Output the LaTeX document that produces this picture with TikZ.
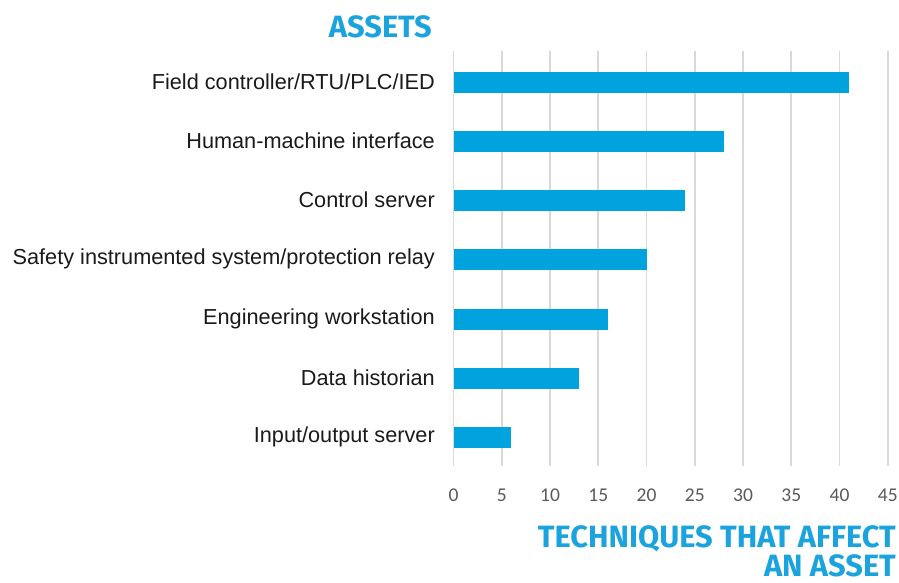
\documentclass[tikz,border=0pt]{standalone}
\usepackage{fontspec}
\setmainfont{Liberation Sans}
\newfontfamily\titlefont{Fira Sans}[UprightFont=* Bold]
\newfontfamily\tickfont{Carlito}
\definecolor{barblue}{HTML}{00A3DD}
\definecolor{titleblue}{HTML}{1AA3DC}
\definecolor{gridgray}{HTML}{D9D9D9}
\definecolor{ticktxt}{HTML}{595959}
\definecolor{labtxt}{HTML}{1A1A1A}
\begin{document}
\begin{tikzpicture}[x=1pt,y=-1pt,
  bar/.style={fill=barblue,draw=none},
  grid/.style={draw=gridgray,line width=1.6pt},
  cat/.style={anchor=east,inner sep=0pt,text=labtxt,font=\fontsize{21.7}{24}\selectfont},
  tick/.style={anchor=center,inner sep=0pt,text=ticktxt,font=\tickfont\fontsize{19.5}{20}\selectfont},
  ttl/.style={inner sep=0pt,text=titleblue,font=\titlefont\fontsize{30.8}{34}\selectfont}]
\useasboundingbox (0,0) rectangle (899,582);
\def\xo{453.5}\def\ux{9.65}
% grid
\foreach \v in {0,5,...,45}{
  \draw[grid] ({\xo+\v*\ux},51) -- ({\xo+\v*\ux},466);
  \node[tick] (t\v) at ({\xo+\v*\ux},495) {\v};
}
% bars
\foreach \val/\yc/\lab [count=\i] in {
  41/82/{Field controller/RTU/PLC/IED},
  28/141/{Human-machine interface},
  24/200/{Control server},
  20/259/{Safety instrumented system/protection relay},
  16/319/{Engineering workstation},
  13/378/{Data historian},
  6/437/{Input/output server}}{
  \fill[bar] (\xo,\yc-10.5) rectangle ({\xo+\val*\ux},\yc+10.5);
  \node[cat] (c\i) at (435,\yc) {\lab};
}
\node[ttl,anchor=base east] (assets) at (432,37) {ASSETS};
\node[ttl,anchor=base east] (xt1) at (896,547) {TECHNIQUES THAT AFFECT};
\node[ttl,anchor=base east] (xt2) at (896,576) {AN ASSET};
\end{tikzpicture}
\end{document}
